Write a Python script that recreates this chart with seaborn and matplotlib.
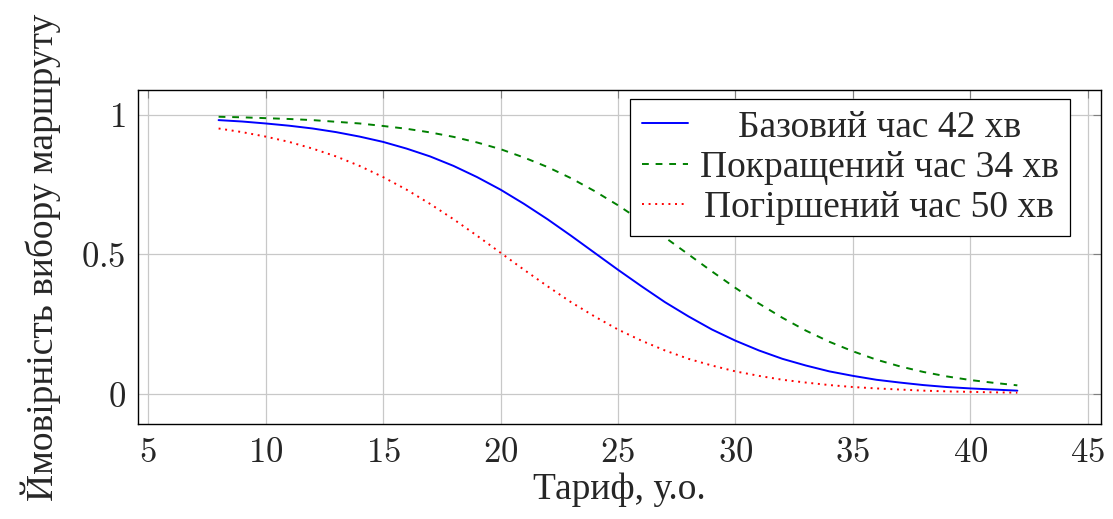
import matplotlib
matplotlib.use("Agg")
import matplotlib.pyplot as plt
import seaborn as sns
import pandas as pd
from matplotlib.offsetbox import HPacker, DrawingArea

# Tariff values (x axis)
tariff = list(range(8, 43))

# Probability of route choice
base_42 = [0.981, 0.976, 0.969, 0.961, 0.951, 0.938, 0.922, 0.903, 0.879, 0.851,
           0.817, 0.777, 0.732, 0.681, 0.626, 0.567, 0.506, 0.445, 0.386, 0.329,
           0.278, 0.231, 0.191, 0.156, 0.126, 0.102, 0.081, 0.065, 0.051, 0.041,
           0.032, 0.025, 0.020, 0.016, 0.012]
improved_34 = [0.993, 0.991, 0.988, 0.985, 0.981, 0.975, 0.969, 0.960, 0.950, 0.937,
               0.921, 0.901, 0.877, 0.847, 0.813, 0.773, 0.727, 0.676, 0.620, 0.561,
               0.500, 0.439, 0.380, 0.324, 0.273, 0.227, 0.187, 0.153, 0.123, 0.099,
               0.079, 0.063, 0.050, 0.040, 0.031]
worse_50 = [0.951, 0.938, 0.922, 0.903, 0.879, 0.851, 0.817, 0.777, 0.732, 0.681,
            0.626, 0.567, 0.506, 0.445, 0.386, 0.329, 0.278, 0.231, 0.191, 0.156,
            0.126, 0.102, 0.081, 0.065, 0.051, 0.041, 0.032, 0.025, 0.020, 0.016,
            0.012, 0.0095, 0.0076, 0.0060, 0.0047]

labels = ["Базовий час 42 хв", "Покращений час 34 хв", "Погіршений час 50 хв"]
colors = ["#0000ff", "#008000", "#ff0000"]
styles = ["-", (0, (3.5, 3.5)), (0, (1.0, 2.4))]

xticks = [5, 10, 15, 20, 25, 30, 35, 40, 45]
yticks = [0, 0.5, 1]
yticklabels = ["0", "0.5", "1"]

sns.set_theme(style="white")
plt.rcParams["font.family"] = ["Liberation Serif", "DejaVu Serif"]
plt.rcParams["mathtext.fontset"] = "cm"

fig = plt.figure(figsize=(11.13, 5.19), dpi=100)
ax = fig.add_axes([0.124, 0.183, 0.865, 0.644])

for ys, lab, c, ls in zip([base_42, improved_34, worse_50], labels, colors, styles):
    df = pd.DataFrame({"x": tariff, "y": ys})
    sns.lineplot(data=df, x="x", y="y", ax=ax, color=c, linestyle=ls,
                 linewidth=1.4, label=lab)

ax.set_xlim(4.57, 45.55)
ax.set_ylim(-0.1075, 1.0896)
ax.set_xticks(xticks)
ax.set_xticklabels([f"${t}$" for t in xticks])
ax.set_yticks(yticks)
ax.set_yticklabels([f"${t}$" for t in yticklabels])
ax.grid(True, color="#c8c8c8", linewidth=0.9)
ax.tick_params(direction="in", length=6, width=0.8, color="#808080",
               top=True, right=True, labelsize=25, pad=9)
for s in ax.spines.values():
    s.set_color("black")
    s.set_linewidth(1.0)

ax.set_xlabel("Тариф, у.о.", fontsize=27, labelpad=2)
ax.set_ylabel("Ймовірність вибору маршруту", fontsize=27, labelpad=14)

leg = ax.legend(loc="upper right", bbox_to_anchor=(0.968, 0.973), fontsize=27,
                frameon=True, fancybox=False, edgecolor="black", framealpha=1,
                handlelength=1.25, handletextpad=0.3, borderpad=0.3,
                labelspacing=0.15, borderaxespad=0)
leg.get_frame().set_linewidth(0.9)

# centre the legend texts within their column (as in the reference)
try:
    fig.canvas.draw()
    renderer = fig.canvas.get_renderer()
    col = leg._legend_handle_box.get_children()[0]
    rows = col.get_children()
    tws = [r.get_children()[1].get_bbox(renderer).width for r in rows]
    wmax = max(tws)
    ppt = renderer.points_to_pixels(1.0)
    for r, w in zip(rows, tws):
        d = (wmax - w) / 2.0 / ppt
        ta = r.get_children()[1]
        wrapped = HPacker(children=[DrawingArea(d, 1), ta, DrawingArea(d, 1)],
                          pad=0, sep=0, align="baseline")
        r._children[1] = wrapped
except Exception:
    pass

fig.savefig("out.png", dpi=100)
